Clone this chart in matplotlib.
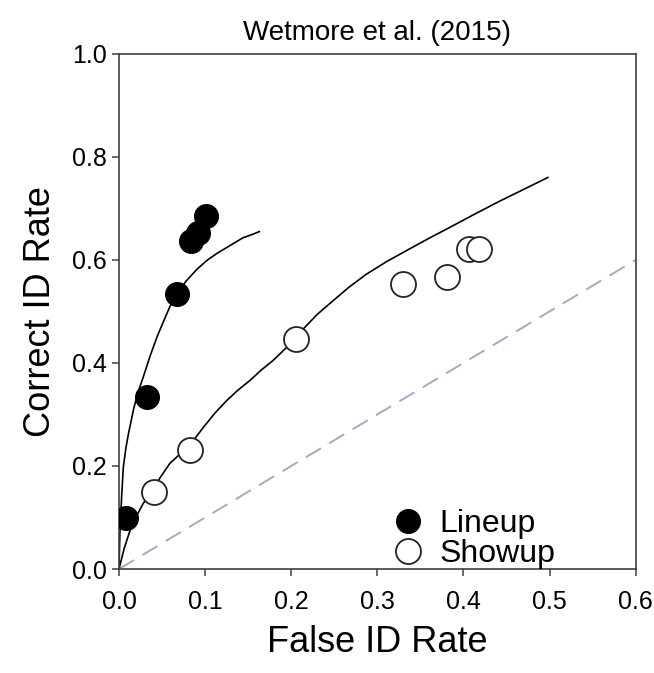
import matplotlib
matplotlib.use("Agg")
import matplotlib.pyplot as plt

plt.rcParams["font.family"] = ["Liberation Sans", "DejaVu Sans"]

# observed data points
lineup_far = [0.008, 0.033, 0.067, 0.084, 0.092, 0.101]
lineup_hr = [0.100, 0.334, 0.534, 0.636, 0.652, 0.686]
showup_far = [0.041, 0.082, 0.206, 0.330, 0.381, 0.407, 0.418]
showup_hr = [0.150, 0.231, 0.447, 0.554, 0.567, 0.622, 0.622]

# fitted ROC curves
lineup_fit_x = [0.0, 0.001, 0.003, 0.005, 0.008, 0.011, 0.017, 0.022, 0.028, 0.036, 0.044, 0.052,
                0.059, 0.068, 0.078, 0.090, 0.102, 0.114, 0.125, 0.135, 0.144, 0.154, 0.163]
lineup_fit_y = [0.0, 0.070, 0.140, 0.198, 0.235, 0.263, 0.311, 0.343, 0.372, 0.413, 0.450, 0.482,
                0.509, 0.536, 0.559, 0.581, 0.599, 0.613, 0.624, 0.634, 0.643, 0.649, 0.655]
showup_fit_x = [0.0, 0.006, 0.013, 0.020, 0.028, 0.038, 0.048, 0.059, 0.070, 0.082, 0.098, 0.111,
                0.125, 0.138, 0.152, 0.165, 0.179, 0.192, 0.206, 0.214, 0.230, 0.248, 0.267,
                0.287, 0.311, 0.337, 0.360, 0.384, 0.412, 0.442, 0.470, 0.498]
showup_fit_y = [0.0, 0.040, 0.076, 0.102, 0.127, 0.150, 0.178, 0.205, 0.222, 0.240, 0.275, 0.302,
                0.327, 0.347, 0.366, 0.386, 0.405, 0.426, 0.447, 0.466, 0.494, 0.520, 0.547,
                0.572, 0.597, 0.621, 0.642, 0.663, 0.688, 0.714, 0.737, 0.760]
chance = [0.0, 0.6]

fig = plt.figure(figsize=(6.54, 6.73), dpi=100)
ax = fig.add_axes([0.182, 0.1545, 0.79, 0.7655])

ax.plot(chance, chance, ls=(0, (9, 5)), color="#a9a6c6", lw=1.4, zorder=1)
ax.plot(lineup_fit_x, lineup_fit_y, color="black", lw=1.2, zorder=2)
ax.plot(showup_fit_x, showup_fit_y, color="black", lw=1.2, zorder=2)
ax.plot(lineup_far, lineup_hr, "o", ms=17, color="black", label="Lineup", zorder=3)
ax.plot(showup_far, showup_hr, "o", ms=18, mfc="white", mec="#222222", mew=1.3,
        label="Showup", zorder=3)

ax.set_xlim(0, 0.6)
ax.set_ylim(0, 1.0)
ax.set_xticks([0.0, 0.1, 0.2, 0.3, 0.4, 0.5, 0.6])
ax.set_yticks([0.0, 0.2, 0.4, 0.6, 0.8, 1.0])
ax.xaxis.set_major_formatter(matplotlib.ticker.FormatStrFormatter("%.1f"))
ax.yaxis.set_major_formatter(matplotlib.ticker.FormatStrFormatter("%.1f"))
ax.tick_params(direction="out", length=5, width=1.1, color="#404040", labelsize=18)
ax.tick_params(axis="x", pad=10)
ax.tick_params(axis="y", pad=4)
for s in ax.spines.values():
    s.set_color("#404040")
    s.set_linewidth(1.2)

ax.set_xlabel("False ID Rate", fontsize=26, labelpad=8)
ax.set_ylabel("Correct ID Rate", fontsize=26, labelpad=10)
ax.set_title("Wetmore et al. (2015)", fontsize=20, pad=10)

ax.legend(loc="center left", bbox_to_anchor=(0.472, 0.058), frameon=False, fontsize=23,
          handletextpad=0.0, labelspacing=0.0, borderaxespad=0)

fig.savefig("out.png", dpi=100)
